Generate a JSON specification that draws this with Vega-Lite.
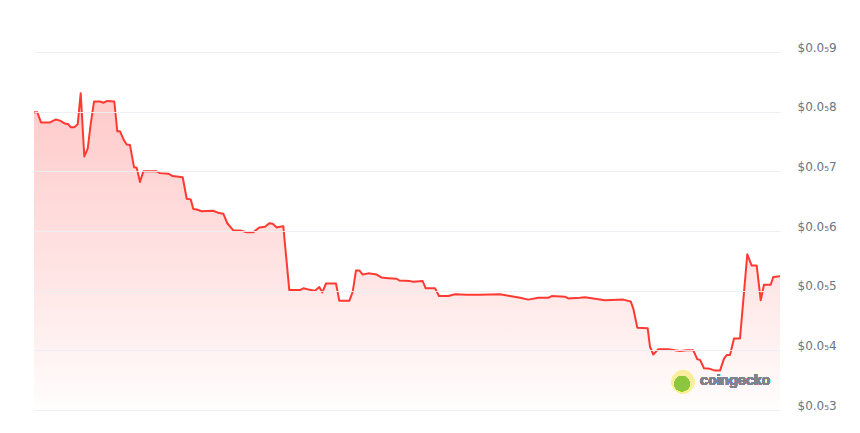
{
  "$schema": "https://vega.github.io/schema/vega-lite/v6.json",
  "width": 746,
  "height": 358,
  "autosize": {"type": "none"},
  "padding": {"left": 34, "top": 52, "right": 80, "bottom": 23},
  "background": "white",
  "config": {"view": {"stroke": null}, "font": "Inter"},
  "data": {
    "values": [
      {"t": 0, "price": 7.99e-6}, {"t": 3.3, "price": 7.99e-6}, {"t": 7, "price": 7.82e-6},
      {"t": 16, "price": 7.82e-6}, {"t": 22, "price": 7.87e-6}, {"t": 26, "price": 7.85e-6},
      {"t": 31, "price": 7.80e-6}, {"t": 34.3, "price": 7.79e-6}, {"t": 36.7, "price": 7.74e-6},
      {"t": 40.3, "price": 7.74e-6}, {"t": 43.7, "price": 7.79e-6}, {"t": 46.7, "price": 8.31e-6},
      {"t": 50.3, "price": 7.25e-6}, {"t": 53.7, "price": 7.38e-6}, {"t": 56.7, "price": 7.79e-6},
      {"t": 60, "price": 8.17e-6}, {"t": 66, "price": 8.17e-6}, {"t": 69.3, "price": 8.15e-6},
      {"t": 73.3, "price": 8.18e-6}, {"t": 80.3, "price": 8.17e-6}, {"t": 83.3, "price": 7.67e-6},
      {"t": 86, "price": 7.67e-6}, {"t": 90, "price": 7.52e-6}, {"t": 92.7, "price": 7.45e-6},
      {"t": 96, "price": 7.44e-6}, {"t": 100, "price": 7.07e-6}, {"t": 102.7, "price": 7.06e-6},
      {"t": 106, "price": 6.82e-6}, {"t": 109.3, "price": 7.00e-6}, {"t": 122.7, "price": 7.00e-6},
      {"t": 126, "price": 6.97e-6}, {"t": 134.3, "price": 6.96e-6}, {"t": 138.7, "price": 6.92e-6},
      {"t": 148.7, "price": 6.90e-6}, {"t": 152.7, "price": 6.54e-6}, {"t": 156.7, "price": 6.53e-6},
      {"t": 159.3, "price": 6.37e-6}, {"t": 162.7, "price": 6.36e-6}, {"t": 167.7, "price": 6.33e-6},
      {"t": 179.3, "price": 6.34e-6}, {"t": 185, "price": 6.30e-6}, {"t": 189.3, "price": 6.29e-6},
      {"t": 193.3, "price": 6.13e-6}, {"t": 199.3, "price": 6.01e-6}, {"t": 206, "price": 6.01e-6},
      {"t": 212.7, "price": 5.98e-6}, {"t": 219.3, "price": 5.98e-6}, {"t": 225.3, "price": 6.06e-6},
      {"t": 231, "price": 6.07e-6}, {"t": 235.3, "price": 6.13e-6}, {"t": 238.7, "price": 6.12e-6},
      {"t": 242.7, "price": 6.06e-6}, {"t": 246, "price": 6.07e-6}, {"t": 249.3, "price": 6.08e-6},
      {"t": 255.3, "price": 5.01e-6}, {"t": 266, "price": 5.01e-6}, {"t": 269.3, "price": 5.04e-6},
      {"t": 274.3, "price": 5.02e-6}, {"t": 281, "price": 5.00e-6}, {"t": 285.3, "price": 5.06e-6},
      {"t": 288.3, "price": 4.97e-6}, {"t": 292, "price": 5.12e-6}, {"t": 302, "price": 5.12e-6},
      {"t": 305.3, "price": 4.83e-6}, {"t": 315.3, "price": 4.83e-6}, {"t": 318.7, "price": 4.98e-6},
      {"t": 322, "price": 5.34e-6}, {"t": 325.3, "price": 5.34e-6}, {"t": 328.7, "price": 5.27e-6},
      {"t": 334.3, "price": 5.29e-6}, {"t": 342.7, "price": 5.27e-6}, {"t": 347.7, "price": 5.22e-6},
      {"t": 354.3, "price": 5.21e-6}, {"t": 362.7, "price": 5.20e-6}, {"t": 365.3, "price": 5.17e-6},
      {"t": 376, "price": 5.16e-6}, {"t": 379.3, "price": 5.15e-6}, {"t": 388.7, "price": 5.16e-6},
      {"t": 391.7, "price": 5.04e-6}, {"t": 401, "price": 5.04e-6}, {"t": 405, "price": 4.91e-6},
      {"t": 414.3, "price": 4.91e-6}, {"t": 421, "price": 4.94e-6}, {"t": 432.7, "price": 4.93e-6},
      {"t": 446, "price": 4.93e-6}, {"t": 466, "price": 4.94e-6}, {"t": 476, "price": 4.91e-6},
      {"t": 486, "price": 4.88e-6}, {"t": 494.3, "price": 4.85e-6}, {"t": 504.3, "price": 4.88e-6},
      {"t": 514.3, "price": 4.88e-6}, {"t": 517.7, "price": 4.91e-6}, {"t": 531, "price": 4.90e-6},
      {"t": 534.3, "price": 4.87e-6}, {"t": 546, "price": 4.88e-6}, {"t": 551, "price": 4.89e-6},
      {"t": 559.3, "price": 4.87e-6}, {"t": 571, "price": 4.84e-6}, {"t": 589.3, "price": 4.85e-6},
      {"t": 596.7, "price": 4.82e-6}, {"t": 599.3, "price": 4.70e-6}, {"t": 603.3, "price": 4.38e-6},
      {"t": 613.7, "price": 4.37e-6}, {"t": 616, "price": 4.06e-6}, {"t": 619.3, "price": 3.93e-6},
      {"t": 624.3, "price": 4.02e-6}, {"t": 634.3, "price": 4.02e-6}, {"t": 641, "price": 4.00e-6},
      {"t": 646, "price": 3.99e-6}, {"t": 652.7, "price": 4.00e-6}, {"t": 659.3, "price": 4.00e-6},
      {"t": 663.3, "price": 3.85e-6}, {"t": 666, "price": 3.84e-6}, {"t": 670, "price": 3.70e-6},
      {"t": 676, "price": 3.69e-6}, {"t": 681, "price": 3.66e-6}, {"t": 686, "price": 3.66e-6},
      {"t": 690, "price": 3.86e-6}, {"t": 692.7, "price": 3.92e-6}, {"t": 696, "price": 3.92e-6},
      {"t": 700, "price": 4.20e-6}, {"t": 706, "price": 4.20e-6}, {"t": 713.3, "price": 5.61e-6},
      {"t": 717.7, "price": 5.42e-6}, {"t": 722.7, "price": 5.42e-6}, {"t": 726.7, "price": 4.84e-6},
      {"t": 730, "price": 5.10e-6}, {"t": 736.7, "price": 5.10e-6}, {"t": 739.3, "price": 5.23e-6},
      {"t": 746, "price": 5.24e-6}
    ]
  },
  "encoding": {
    "x": {
      "field": "t",
      "type": "quantitative",
      "scale": {"domain": [0, 746], "nice": false, "zero": false},
      "axis": null
    },
    "y": {
      "field": "price",
      "type": "quantitative",
      "scale": {"domain": [3e-6, 9e-6], "nice": false, "zero": false},
      "axis": {
        "orient": "right",
        "title": null,
        "zindex": 1,
        "values": [3e-6, 4e-6, 5e-6, 6e-6, 7e-6, 8e-6, 9e-6],
        "labelExpr": "'$0.0₅' + round(datum.value * 1e6)",
        "domain": false,
        "ticks": false,
        "labelPadding": 17,
        "labelOffset": -5,
        "labelColor": "#6b7585",
        "labelFontSize": 12,
        "labelFont": "DejaVu Sans",
        "gridColor": "#eceef2",
        "gridOpacity": 0.9,
        "gridWidth": 1
      }
    }
  },
  "layer": [
    {
      "mark": {
        "type": "area",
        "color": {
          "gradient": "linear",
          "x1": 0, "y1": 0, "x2": 0, "y2": 1,
          "stops": [
            {"offset": 0, "color": "#ffc9c9"},
            {"offset": 0.6, "color": "#ffe6e6"},
            {"offset": 1, "color": "#fffdfd"}
          ]
        }
      },
      "encoding": {"y2": {"datum": 3e-6}}
    },
    {
      "mark": {"type": "line", "color": "#ff3a33", "strokeWidth": 2, "strokeJoin": "round"}
    },
    {
      "mark": {"type": "point", "filled": true, "color": "#f8ee9e", "size": 520, "opacity": 1, "strokeWidth": 0},
      "encoding": {
        "x": {"datum": 649},
        "y": {"datum": 3.47e-6}
      }
    },
    {
      "mark": {"type": "point", "filled": true, "color": "#8cc63f", "size": 230, "opacity": 1, "strokeWidth": 0},
      "encoding": {
        "x": {"datum": 648},
        "y": {"datum": 3.44e-6}
      }
    },
    {
      "mark": {"type": "text", "text": "coingecko", "align": "left", "baseline": "middle", "fontSize": 14, "fontWeight": 600, "color": "#80838f", "font": "Inter"},
      "encoding": {
        "x": {"datum": 666},
        "y": {"datum": 3.48e-6}
      }
    }
  ]
}
